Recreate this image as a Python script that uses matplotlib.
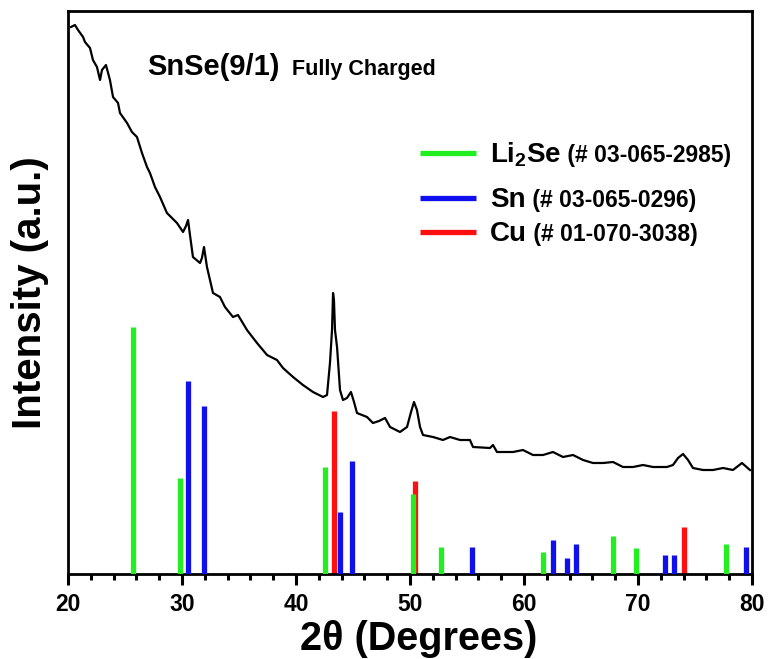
import matplotlib
matplotlib.use("Agg")
import matplotlib.pyplot as plt
from matplotlib.ticker import MultipleLocator

plt.rcParams['font.family'] = ['Liberation Sans', 'DejaVu Sans']
plt.rcParams['font.weight'] = 'bold'
plt.rcParams['mathtext.fontset'] = 'custom'
plt.rcParams['mathtext.rm'] = 'Liberation Sans:bold'
plt.rcParams['mathtext.bf'] = 'Liberation Sans:bold'
plt.rcParams['mathtext.it'] = 'Liberation Sans:bold'
plt.rcParams['mathtext.default'] = 'rm'

# XRD pattern (2theta, intensity a.u.)
two_theta = [20.26, 20.61, 20.88, 21.32, 21.49, 21.93, 22.19, 22.54, 22.81, 22.98,
             23.33, 23.68, 23.95, 24.39, 24.56, 25.18, 25.61, 26.05, 26.49, 26.93,
             27.19, 27.63, 28.07, 28.68, 29.12, 29.56, 30.09, 30.35, 30.53, 30.70,
             30.96, 31.58, 31.75, 31.93, 32.19, 32.72, 33.33, 33.77, 34.47, 34.91,
             35.70, 36.58, 37.46, 38.33, 38.86, 39.74, 40.61, 41.49, 42.37, 42.72,
             42.98, 43.16, 43.25, 43.33, 43.42, 43.60, 43.86, 44.12, 44.47, 44.82,
             45.09, 45.35, 45.79, 46.23, 46.75, 47.28, 47.81, 48.25, 49.12, 49.74,
             50.09, 50.35, 50.61, 50.88, 51.14, 52.02, 52.89, 53.51, 54.39, 55.26,
             55.53, 57.02, 57.28, 57.63, 59.04, 59.91, 60.79, 61.67, 62.54, 63.42,
             64.30, 65.18, 66.05, 66.93, 67.81, 68.68, 69.56, 70.44, 71.32, 72.54,
             73.07, 73.51, 73.95, 74.39, 74.82, 75.70, 76.58, 77.46, 78.33, 79.12,
             79.82]
intensity = [547, 549, 544, 537, 532, 526, 514, 507, 494, 504,
             509, 494, 477, 471, 461, 451, 442, 437, 421, 407,
             401, 387, 377, 361, 356, 351, 342, 348, 354, 339,
             317, 311, 316, 327, 307, 281, 277, 267, 257, 259,
             244, 231, 219, 214, 206, 197, 189, 182, 177, 179,
             211, 244, 281, 274, 244, 227, 184, 174, 176, 182,
             172, 161, 159, 157, 151, 153, 156, 147, 142, 147,
             162, 172, 164, 147, 139, 137, 134, 137, 134, 134,
             127, 126, 129, 122, 122, 124, 119, 119, 122, 117,
             119, 114, 111, 111, 112, 107, 107, 109, 107, 107,
             109, 116, 120, 114, 106, 104, 104, 106, 104, 111,
             104]

# Reference patterns
li2se_pos = [25.7, 29.8, 42.5, 50.3, 52.7, 61.7, 67.8, 69.8, 77.7]
li2se_int = [247, 96, 107, 80, 27, 22, 38, 26, 30]
sn_pos = [30.5, 31.9, 43.9, 44.9, 55.4, 62.5, 63.8, 64.6, 72.4, 73.2, 79.5]
sn_int = [193, 168, 62, 113, 27, 34, 16, 30, 19, 19, 27]
cu_pos = [43.3, 50.4, 74.0]
cu_int = [163, 93, 47]

legend_labels = [("Li$_2$Se", "(# 03-065-2985)", '#22ee22'),
                 ("Sn", "(# 03-065-0296)", '#1010ee'),
                 ("Cu", "(# 01-070-3038)", '#ff1010')]

fig = plt.figure(figsize=(7.68, 6.59), dpi=100)
ax = fig.add_axes([68/768, 1 - 574/659, (752-68)/768, (574-11)/659])

ax.vlines(cu_pos, 0, cu_int, color='#ff1010', linewidth=3.8, zorder=2)
ax.vlines(li2se_pos, 0, li2se_int, color='#22ee22', linewidth=3.8, zorder=3)
ax.vlines(sn_pos, 0, sn_int, color='#1010ee', linewidth=3.8, zorder=4)
ax.plot(two_theta, intensity, color='black', linewidth=1.6, zorder=5)

ax.set_xlim(20, 80)
ax.set_ylim(0, 563)
ax.xaxis.set_major_locator(MultipleLocator(10))
ax.xaxis.set_minor_locator(MultipleLocator(2))
ax.tick_params(axis='x', which='major', direction='out', length=8, width=2.2,
               labelsize=16.5, pad=6)
ax.tick_params(axis='x', which='minor', direction='out', length=4.5, width=2.2)
ax.set_yticks([])
for s in ax.spines.values():
    s.set_linewidth(2.0)
for lab in ax.get_xticklabels():
    lab.set_fontweight('bold')

ax.set_xlabel("2θ (Degrees)", fontsize=28.5, fontweight='bold')
ax.xaxis.set_label_coords(0.512, -0.081)
ax.xaxis.label.set_va('top')
ax.set_ylabel("Intensity (a.u.)", fontsize=29, fontweight='bold', labelpad=14)

t = ax.text((147-68)/684, 1 - (75-11)/563, "SnSe(9/1)", transform=ax.transAxes,
            fontsize=21, fontweight='bold', va='baseline', ha='left')
ax.annotate("  Fully Charged", xy=(1, 1 - (75-11)/563), xycoords=(t, ax.transAxes),
            fontsize=15.5, fontweight='bold', va='baseline', ha='left')

ys = [153, 198, 232]
for (big, small, col), yp in zip(legend_labels, ys):
    yf = 1 - (yp - 11)/563
    ax.plot([(420-68)/684, (476-68)/684], [yf, yf], transform=ax.transAxes,
            color=col, linewidth=3.8, solid_capstyle='butt')
    bt = ax.text((490-68)/684, yf - 9/563, big, transform=ax.transAxes,
                 fontsize=20, fontweight='bold', va='baseline', ha='left')
    ax.annotate(" " + small, xy=(1, yf - 9/563), xycoords=(bt, ax.transAxes),
                fontsize=16.5, fontweight='bold', va='baseline', ha='left')

fig.savefig("out.png", dpi=100)
